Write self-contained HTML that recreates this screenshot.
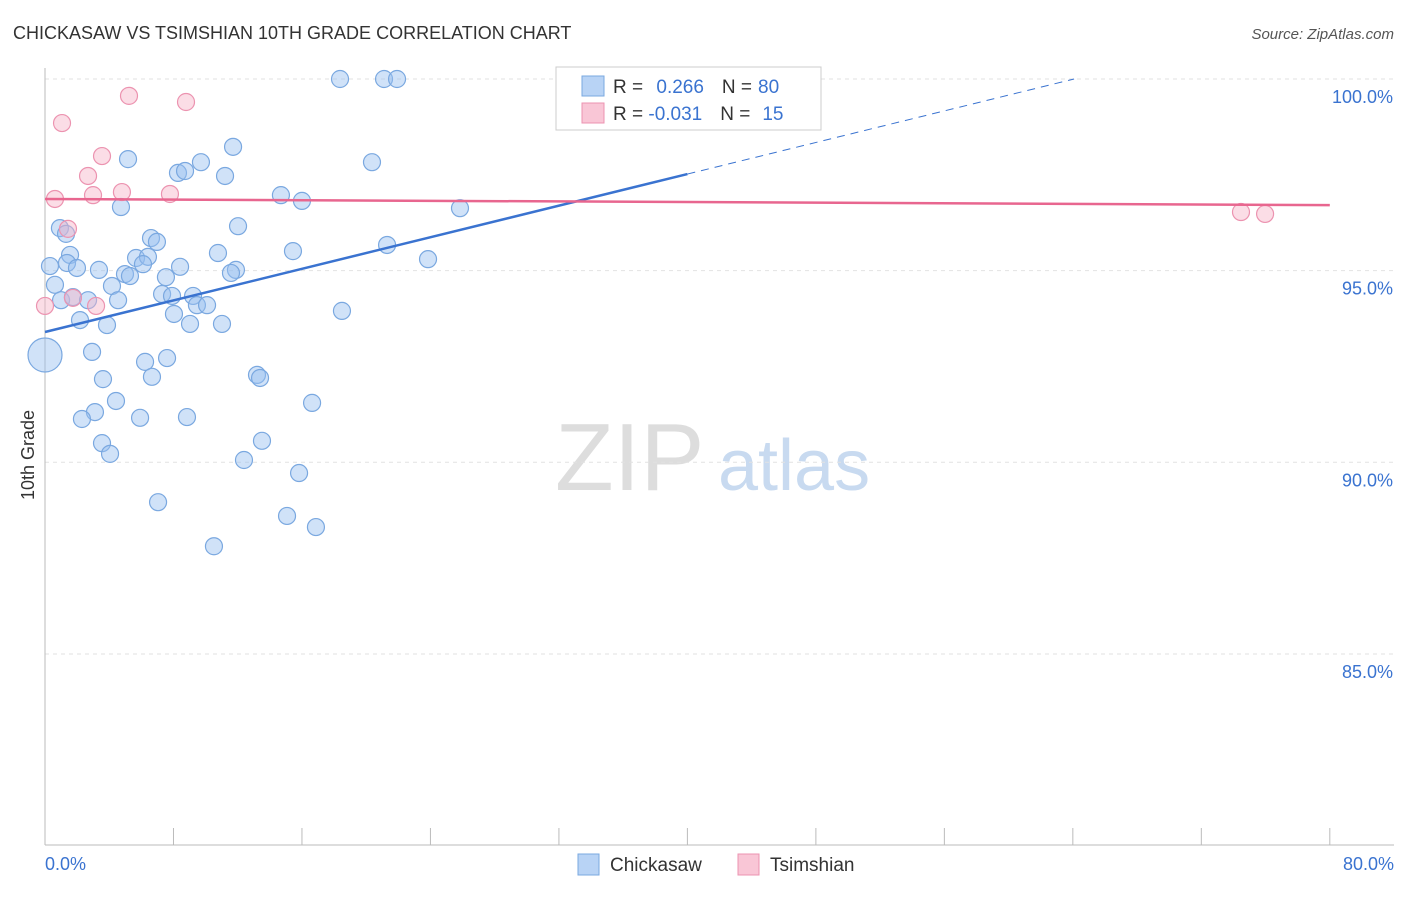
<!DOCTYPE html>
<html><head><meta charset="utf-8"><style>
body{margin:0;background:#fff;font-family:"Liberation Sans",sans-serif}
svg text{font-family:"Liberation Sans",sans-serif}
</style></head><body>
<svg id="c" width="1406" height="892">
<text x="13" y="39" font-size="18" fill="#333">CHICKASAW VS TSIMSHIAN 10TH GRADE CORRELATION CHART</text>
<text x="1394" y="39" font-size="15" fill="#555" font-style="italic" text-anchor="end">Source: ZipAtlas.com</text>
<text x="34" y="455" font-size="18" fill="#333" transform="rotate(-90 34 455)" text-anchor="middle">10th Grade</text>
<text x="555" y="490" font-size="96" fill="#ddd" font-family="Liberation Serif">ZIP</text>
<text x="718" y="490" font-size="72" fill="#c8daf0">atlas</text>
<g id="grid"></g><g id="pts"></g><g id="lines"></g>
<g>
<rect x="556" y="67" width="265" height="63" fill="#fff" stroke="#ccc"/>
<rect x="582" y="76" width="22" height="20" fill="#b8d3f5" stroke="#7aa8e0"/>
<rect x="582" y="103" width="22" height="20" fill="#f9c6d6" stroke="#ec93b0"/>
<text x="613" y="93" font-size="19" fill="#333">R = <tspan fill="#3a73d0" dx="8">0.266</tspan><tspan dx="18" fill="#333">N =</tspan><tspan dx="6" fill="#3a73d0">80</tspan></text>
<text x="613" y="120" font-size="19" fill="#333">R = <tspan fill="#3a73d0">-0.031</tspan><tspan dx="18" fill="#333">N =</tspan><tspan dx="12" fill="#3a73d0">15</tspan></text>
</g>
<g>
<rect x="578" y="854" width="21" height="21" fill="#b8d3f5" stroke="#7aa8e0"/>
<text x="610" y="871" font-size="19" fill="#333">Chickasaw</text>
<rect x="738" y="854" width="21" height="21" fill="#f9c6d6" stroke="#ec93b0"/>
<text x="770" y="871" font-size="19" fill="#333">Tsimshian</text>
</g>
</svg>
<script>
const xTicks=[0,80];
const yTicks=[100,95,90,85];
const blueX=[18.37,21.11,21.92,36.8,11.71,5.17,9.71,20.36,8.28,8.72,11.21,14.69,16.0,4.73,25.84,0.93,1.31,12.02,6.6,6.97,21.3,15.44,10.77,1.56,5.67,6.41,0.31,1.37,1.99,3.36,4.98,5.29,6.1,8.41,11.89,11.58,23.85,7.53,0.62,4.17,1.0,1.74,2.68,4.55,7.29,7.91,9.22,9.46,10.09,8.03,18.49,2.18,3.86,9.03,11.02,0,2.93,6.23,7.6,3.61,6.66,13.2,13.39,4.42,16.63,3.11,2.3,5.92,8.84,3.55,13.51,4.05,12.39,15.82,7.04,15.07,16.87,10.52];
const blueY=[100,100,100,100,98.23,97.91,97.83,97.83,97.55,97.6,97.47,96.97,96.82,96.66,96.63,96.11,95.96,96.16,95.85,95.75,95.67,95.51,95.46,95.41,95.33,95.36,95.12,95.2,95.07,95.02,94.91,94.86,95.17,95.1,95.02,94.94,95.3,94.83,94.63,94.6,94.23,94.31,94.23,94.23,94.39,94.34,94.34,94.1,94.1,93.87,93.95,93.71,93.58,93.61,93.61,92.8,92.88,92.62,92.72,92.17,92.23,92.28,92.2,91.6,91.55,91.31,91.13,91.16,91.18,90.5,90.56,90.22,90.06,89.72,88.96,88.6,88.31,87.81];
const pinkX=[1.06,5.23,8.78,3.55,2.68,0.62,2.99,4.79,7.78,1.43,1.74,3.18,0,74.47,75.97];
const pinkY=[98.85,99.56,99.4,97.99,97.47,96.87,96.97,97.05,97.0,96.09,94.29,94.08,94.08,96.53,96.48];
const blueTrend=[93.4,97.52]; // y at x=0 and x=40
const pinkTrend=[96.87,96.71]; // y at x=0 and x=80
const X=v=>45+v*16.06, Y=v=>79+(100-v)*38.33;
const NS="http://www.w3.org/2000/svg";
function mk(t,a,p){const e=document.createElementNS(NS,t);for(const k in a)e.setAttribute(k,a[k]);p.appendChild(e);return e;}
const g=document.getElementById('grid');
yTicks.forEach(v=>{const l=mk('line',{x1:45,x2:1394,y1:Y(v),y2:Y(v),stroke:'#e2e2e2','stroke-dasharray':'4,4'},g);


const t=mk('text',{x:1393,y:Y(v)+24,'font-size':18,fill:'#3a73d0','text-anchor':'end'},g);t.textContent=v.toFixed(1)+'%';

});
const ax=mk('line',{x1:45,x2:45,y1:68,y2:845,stroke:'#bbb'},g);


const bx=mk('line',{x1:45,x2:1394,y1:845,y2:845,stroke:'#bbb'},g);


for(let i=0;i<=10;i++){const tk=mk('line',{x1:X(i*8),x2:X(i*8),y1:828,y2:845,stroke:'#bbb'},g);

}
xTicks.forEach((v,i)=>{const t=mk('text',{x:i?1394:45,y:870,'font-size':18,fill:'#3a73d0','text-anchor':i?'end':'start'},g);t.textContent=v.toFixed(1)+'%';

});
const P=document.getElementById('pts');
blueX.forEach((x,i)=>{const c=mk('circle',{cx:X(x),cy:Y(blueY[i]),r:(x===0&&blueY[i]<93)?17:8.5,fill:'rgba(150,190,240,0.45)',stroke:'#7aa8e0','stroke-width':1.2},P);

});
pinkX.forEach((x,i)=>{const c=mk('circle',{cx:X(x),cy:Y(pinkY[i]),r:8.5,fill:'rgba(246,180,200,0.45)',stroke:'#ec93b0','stroke-width':1.2},P);

});
const L=document.getElementById('lines');
const sl=(blueTrend[1]-blueTrend[0])/40;
const b1=mk('line',{x1:X(0),y1:Y(blueTrend[0]),x2:X(40),y2:Y(blueTrend[1]),stroke:'#3a73d0','stroke-width':2.5},L);


const xe=40+(100-blueTrend[1])/sl;
const b2=mk('line',{x1:X(40),y1:Y(blueTrend[1]),x2:X(xe),y2:Y(100),stroke:'#3a73d0','stroke-width':1,'stroke-dasharray':'8,6'},L);


const p1=mk('line',{x1:X(0),y1:Y(pinkTrend[0]),x2:X(80),y2:Y(pinkTrend[1]),stroke:'#e8668f','stroke-width':2.5},L);


</script>
</body></html>
